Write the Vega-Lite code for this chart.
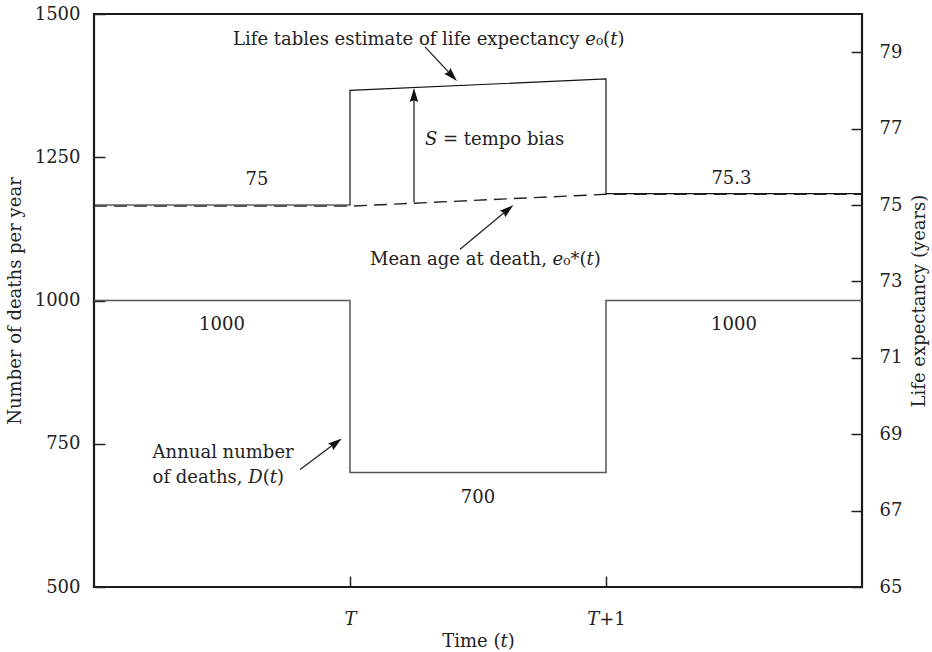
{
  "$schema": "https://vega.github.io/schema/vega-lite/v6.json",
  "width": 768,
  "height": 573,
  "autosize": {"type": "none"},
  "padding": {"left": 94, "top": 14, "right": 70, "bottom": 65},
  "background": "white",
  "config": {
    "view": {"stroke": "#1a1a1a", "strokeWidth": 2.2},
    "font": "DejaVu Serif",
    "text": {"font": "DejaVu Serif", "fontSize": 18, "color": "#222"},
    "axis": {
      "grid": false,
      "domain": false,
      "labelFont": "DejaVu Serif",
      "labelFontSize": 18,
      "labelColor": "#222",
      "titleFont": "DejaVu Serif",
      "titleFontSize": 18,
      "titleFontWeight": "normal",
      "titleColor": "#222",
      "tickColor": "#222",
      "tickWidth": 1.5,
      "tickSize": 11,
      "offset": -11,
      "labelOverlap": false,
      "labelFlush": false
    }
  },
  "resolve": {"scale": {"y": "independent"}},
  "layer": [
    {
      "layer": [
        {
          "data": {"values": [
            {"t": 0, "v": 1000},
            {"t": 1, "v": 700},
            {"t": 2, "v": 1000},
            {"t": 3, "v": 1000}
          ]},
          "mark": {"type": "line", "interpolate": "step-after", "color": "#555", "strokeWidth": 1.5},
          "encoding": {
            "x": {"field": "t", "type": "quantitative", "scale": {"domain": [0, 3], "nice": false},
              "axis": {"orient": "bottom", "values": [1, 2], "labelExpr": "datum.value == 1 ? '𝑇' : '𝑇+1'", "labelPadding": 23, "title": "Time (𝑡)", "titlePadding": 4}},
            "y": {"field": "v", "type": "quantitative", "scale": {"domain": [500, 1500], "nice": false, "zero": false},
              "axis": {"orient": "left", "values": [500, 750, 1000, 1250, 1500], "format": "d", "labelPadding": 14, "title": "Number of deaths per year", "titlePadding": 10}}
          }
        },
        {
          "data": {"values": [
            {"t": 0.5, "v": 957, "label": "1000"},
            {"t": 1.5, "v": 655, "label": "700"},
            {"t": 2.5, "v": 957, "label": "1000"}
          ]},
          "mark": {"type": "text", "align": "center", "baseline": "middle"},
          "encoding": {
            "x": {"field": "t", "type": "quantitative"},
            "y": {"field": "v", "type": "quantitative"},
            "text": {"field": "label"}
          }
        },
        {
          "data": {"values": [
            {"t": 0.229, "v": 734, "label": "Annual number"},
            {"t": 0.229, "v": 690, "label": "of deaths, 𝐷(𝑡)"}
          ]},
          "mark": {"type": "text", "align": "left", "baseline": "middle"},
          "encoding": {
            "x": {"field": "t", "type": "quantitative"},
            "y": {"field": "v", "type": "quantitative"},
            "text": {"field": "label"}
          }
        },
        {
          "data": {"values": [
            {"t": 0.805, "v": 705, "t2": 0.946, "v2": 752}
          ]},
          "mark": {"type": "rule", "color": "#222", "strokeWidth": 1.3},
          "encoding": {
            "x": {"field": "t", "type": "quantitative"},
            "y": {"field": "v", "type": "quantitative"},
            "x2": {"field": "t2"},
            "y2": {"field": "v2"}
          }
        },
        {
          "data": {"values": [
            {"t": 0.946, "v": 752, "angle": 53.4}
          ]},
          "mark": {"type": "point", "shape": "M0,-1L-0.6,1L0,0.75L0.6,1Z", "filled": true, "color": "#111", "size": 196, "opacity": 1},
          "encoding": {
            "x": {"field": "t", "type": "quantitative"},
            "y": {"field": "v", "type": "quantitative"},
            "angle": {"field": "angle", "type": "quantitative", "scale": null}
          }
        }
      ]
    },
    {
      "layer": [
        {
          "data": {"values": [
            {"i": 1, "t": 0, "e": 75},
            {"i": 2, "t": 1, "e": 75},
            {"i": 3, "t": 1, "e": 78.0},
            {"i": 4, "t": 2, "e": 78.3},
            {"i": 5, "t": 2, "e": 75.3},
            {"i": 6, "t": 3, "e": 75.3}
          ]},
          "mark": {"type": "line", "color": "#111", "strokeWidth": 1.2},
          "encoding": {
            "x": {"field": "t", "type": "quantitative"},
            "y": {"field": "e", "type": "quantitative", "scale": {"domain": [65, 80], "nice": false, "zero": false},
              "axis": {"orient": "right", "values": [65, 67, 69, 71, 73, 75, 77, 79], "labelPadding": 17, "title": "Life expectancy (years)", "titleAngle": 270, "titlePadding": 27}},
            "order": {"field": "i", "type": "quantitative"}
          }
        },
        {
          "data": {"values": [
            {"i": 1, "t": 0, "e": 74.97},
            {"i": 2, "t": 1, "e": 74.97},
            {"i": 3, "t": 2, "e": 75.28},
            {"i": 4, "t": 3, "e": 75.28}
          ]},
          "mark": {"type": "line", "color": "#222", "strokeWidth": 1.4, "strokeDash": [13, 7]},
          "encoding": {
            "x": {"field": "t", "type": "quantitative"},
            "y": {"field": "e", "type": "quantitative"},
            "order": {"field": "i", "type": "quantitative"}
          }
        },
        {
          "data": {"values": [
            {"t": 0.637, "e": 75.65, "label": "75"},
            {"t": 2.49, "e": 75.68, "label": "75.3"}
          ]},
          "mark": {"type": "text", "align": "center", "baseline": "middle"},
          "encoding": {
            "x": {"field": "t", "type": "quantitative"},
            "y": {"field": "e", "type": "quantitative"},
            "text": {"field": "label"}
          }
        },
        {
          "data": {"values": [
            {"t": 0.543, "e": 79.32, "label": "Life tables estimate of life expectancy 𝑒₀(𝑡)"},
            {"t": 1.293, "e": 76.7, "label": "𝑆 = tempo bias"},
            {"t": 1.078, "e": 73.56, "label": "Mean age at death, 𝑒₀*(𝑡)"}
          ]},
          "mark": {"type": "text", "align": "left", "baseline": "middle"},
          "encoding": {
            "x": {"field": "t", "type": "quantitative"},
            "y": {"field": "e", "type": "quantitative"},
            "text": {"field": "label"}
          }
        },
        {
          "data": {"values": [
            {"t": 1.293, "e": 79.14, "t2": 1.399, "e2": 78.38},
            {"t": 1.25, "e": 75.075, "t2": 1.25, "e2": 77.88},
            {"t": 1.43, "e": 73.84, "t2": 1.617, "e2": 74.88}
          ]},
          "mark": {"type": "rule", "color": "#222", "strokeWidth": 1.3},
          "encoding": {
            "x": {"field": "t", "type": "quantitative"},
            "y": {"field": "e", "type": "quantitative"},
            "x2": {"field": "t2"},
            "y2": {"field": "e2"}
          }
        },
        {
          "data": {"values": [
            {"t": 1.399, "e": 78.38, "angle": 137},
            {"t": 1.25, "e": 77.88, "angle": 0},
            {"t": 1.617, "e": 74.88, "angle": 50.3}
          ]},
          "mark": {"type": "point", "shape": "M0,-1L-0.6,1L0,0.75L0.6,1Z", "filled": true, "color": "#111", "size": 196, "opacity": 1},
          "encoding": {
            "x": {"field": "t", "type": "quantitative"},
            "y": {"field": "e", "type": "quantitative"},
            "angle": {"field": "angle", "type": "quantitative", "scale": null}
          }
        }
      ]
    }
  ]
}
